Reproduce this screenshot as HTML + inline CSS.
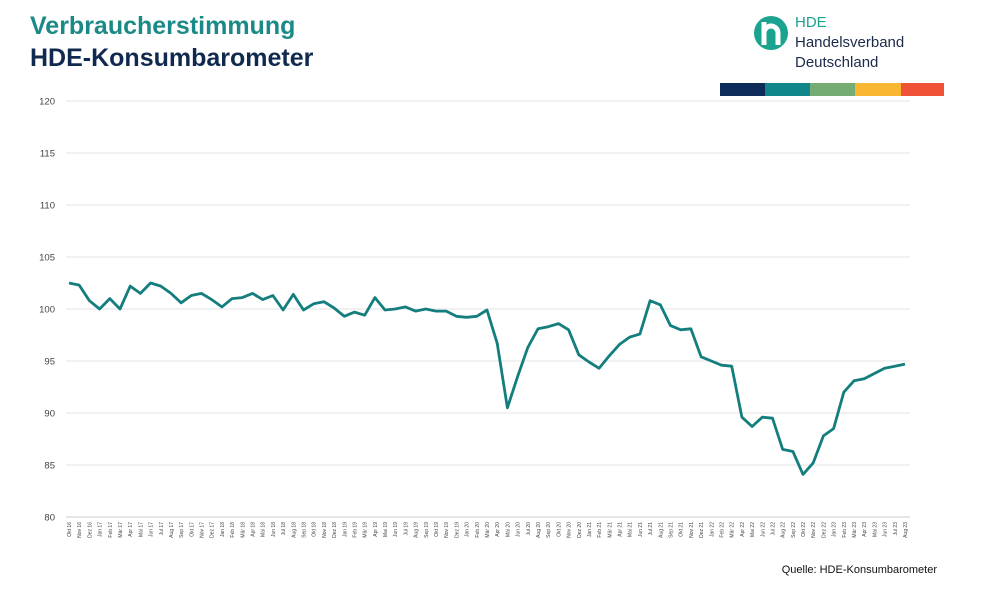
<!DOCTYPE html>
<html><head><meta charset="utf-8"><style>
body{margin:0;background:#fff;width:993px;height:590px;overflow:hidden;font-family:"Liberation Sans",sans-serif;position:relative}
.t1{position:absolute;left:30px;top:12px;font-size:25px;font-weight:bold;color:#1a8a86}
.t2{position:absolute;left:30px;top:44px;font-size:25px;font-weight:bold;color:#10294f}
.logo{position:absolute;left:754px;top:16px}
.lt{position:absolute;left:795px;top:13px;font-size:15px;line-height:20px;color:#1b2a4a}
.src{position:absolute;right:56px;top:564px;font-size:11px;color:#111}
</style></head><body>
<div class="t1">Verbraucherstimmung</div>
<div class="t2">HDE-Konsumbarometer</div>
<svg class="logo" width="34" height="34" viewBox="0 0 34 34"><circle cx="17" cy="17" r="17" fill="#1aa38e"/><path d="M10 6v23M10 17a7 7 0 0 1 14 0v12" stroke="#fff" stroke-width="5" fill="none"/></svg>
<div class="lt"><span style="color:#1aa38e">HDE</span><br>Handelsverband<br>Deutschland</div>
<svg style="position:absolute;left:720px;top:83px" width="224" height="13"><rect x="0" width="45" height="13" fill="#0e2c5a"/><rect x="45" width="45" height="13" fill="#10868a"/><rect x="90" width="45" height="13" fill="#74ac74"/><rect x="135" width="46" height="13" fill="#f8b631"/><rect x="181" width="43" height="13" fill="#ef5237"/></svg>
<svg id="c" style="position:absolute;left:0;top:0" width="993" height="590"></svg>
<div class="src">Quelle: HDE-Konsumbarometer</div>
<script>
var d=[102.5,102.3,100.8,100.0,101.0,100.0,102.2,101.5,102.5,102.2,101.5,100.6,101.3,101.5,100.9,100.2,101.0,101.1,101.5,100.9,101.3,99.9,101.4,99.9,100.5,100.7,100.1,99.3,99.7,99.4,101.1,99.9,100.0,100.2,99.8,100.0,99.8,99.8,99.3,99.2,99.3,99.9,96.7,90.5,93.5,96.3,98.1,98.3,98.6,98.0,95.6,94.9,94.3,95.5,96.6,97.3,97.6,100.8,100.4,98.4,98.0,98.1,95.4,95.0,94.6,94.5,89.6,88.7,89.6,89.5,86.5,86.3,84.1,85.2,87.8,88.5,92.0,93.1,93.3,93.8,94.3,94.5,94.7];
var m=["Jan","Feb","Mär","Apr","Mai","Jun","Jul","Aug","Sep","Okt","Nov","Dez"];
var s="",x0=69,dx=(905-69)/82;function Y(v){return 517-(v-80)*10.4;}
for(var v=80;v<=120;v+=5){var y=Y(v);s+='<line x1="66" x2="910" y1="'+y+'" y2="'+y+'" stroke="'+(v==80?'#ccc':'#e3e3e3')+'" stroke-width="1"/><text x="55" y="'+(y+3.5)+'" font-size="9.5" text-anchor="end" fill="#444">'+v+'</text>';}
var p="";for(var i=0;i<d.length;i++){var x=x0+i*dx;p+=x.toFixed(1)+","+Y(d[i]).toFixed(1)+" ";
var mi=(9+i)%12,yr=16+Math.floor((9+i)/12);s+='<text transform="translate('+(x+2)+',522) rotate(-90)" font-size="5" text-anchor="end" fill="#444">'+m[mi]+' '+yr+'</text>';}
s+='<polyline points="'+p+'" fill="none" stroke="#137e7d" stroke-width="2.8" stroke-linejoin="round"/>';
document.getElementById("c").innerHTML=s;
</script>
</body></html>
